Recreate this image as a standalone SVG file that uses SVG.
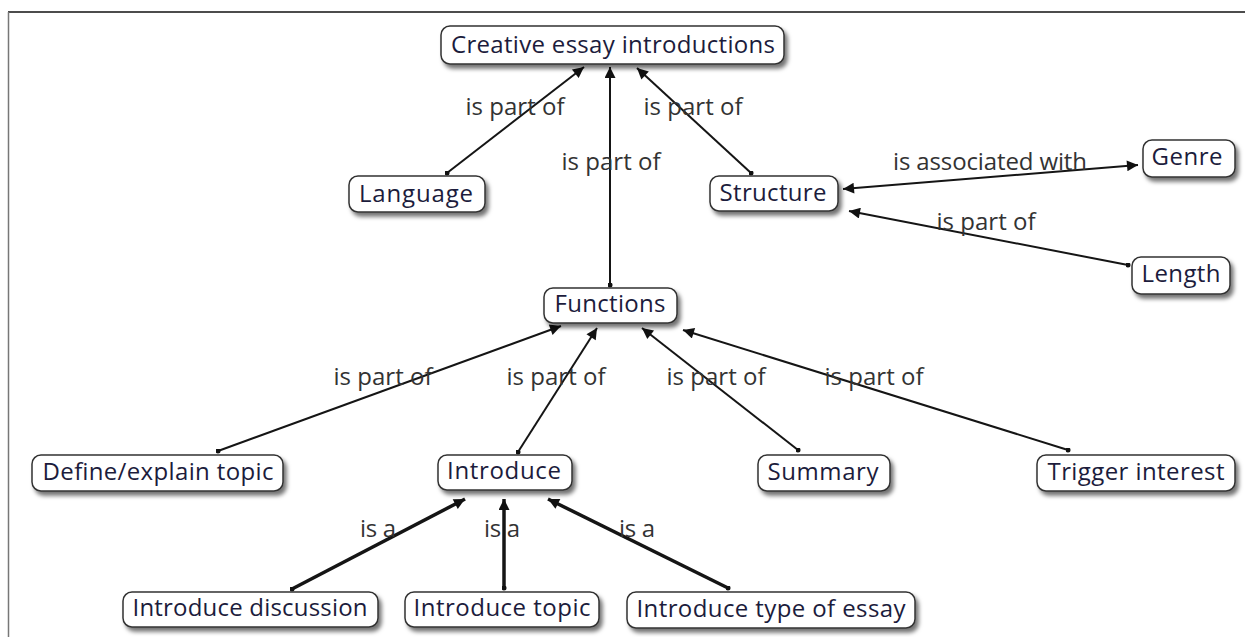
<svg xmlns="http://www.w3.org/2000/svg" width="1245" height="637" viewBox="0 0 1245 637">
  <defs>
    <filter id="shadow" x="-10%" y="-30%" width="125%" height="170%">
      <feDropShadow dx="3" dy="4" stdDeviation="2.2" flood-color="#000" flood-opacity="0.55"/>
    </filter>
    <marker id="arrowBig" viewBox="0 0 10 10" refX="10" refY="5" markerWidth="16" markerHeight="11" orient="auto-start-reverse" markerUnits="userSpaceOnUse">
      <path d="M0,0 L10,5 L0,10 z" fill="#111"/>
    </marker>
    <marker id="dot" viewBox="0 0 6 6" refX="3" refY="3" markerWidth="5" markerHeight="5" markerUnits="userSpaceOnUse">
      <circle cx="3" cy="3" r="3" fill="#111"/>
    </marker>
  </defs>
  <style>
    .node rect { fill: #fff; stroke: #333; stroke-width: 1.5; filter: url(#shadow); }
    .node text { font-family: "Open Sans", "Noto Sans", sans-serif; font-size: 24px; fill: #1c1c3c; text-anchor: middle; }
    .edge { stroke: #151515; stroke-width: 2; fill: none; marker-end: url(#arrowBig); marker-start: url(#dot); }
    .thick { stroke-width: 3.5; }
    .lbl { font-family: "Open Sans", "Noto Sans", sans-serif; font-size: 24px; fill: #333; text-anchor: middle; }
  </style>

  <rect width="1245" height="637" fill="#fff"/>
  <!-- page frame -->
  <line x1="8" y1="12" x2="1245" y2="12" stroke="#111" stroke-width="1.5"/>
  <line x1="8.5" y1="12" x2="8.5" y2="637" stroke="#777" stroke-width="1.5"/>

  <!-- connectors -->
  <g id="connectors">
    <line class="edge" x1="447" y1="173" x2="584" y2="67"/>
    <line class="edge" x1="610" y1="285" x2="610" y2="67"/>
    <line class="edge" x1="751" y1="173" x2="637" y2="68"/>
    <line class="edge" x1="843" y1="189" x2="1138" y2="165" style="marker-start:url(#arrowBig)"/>
    <line class="edge" x1="1128" y1="265" x2="849" y2="211"/>
    <line class="edge" x1="218" y1="451" x2="561" y2="326"/>
    <line class="edge" x1="518" y1="452" x2="597" y2="328"/>
    <line class="edge" x1="798" y1="450" x2="642" y2="328"/>
    <line class="edge" x1="1068" y1="450" x2="683" y2="330"/>
    <line class="edge thick" x1="292" y1="589" x2="465" y2="499"/>
    <line class="edge thick" x1="504" y1="588" x2="504" y2="499"/>
    <line class="edge thick" x1="728" y1="588" x2="548" y2="499"/>

    <text class="lbl" x="515" y="115" textLength="99">is part of</text>
    <text class="lbl" x="611" y="170" textLength="99">is part of</text>
    <text class="lbl" x="693" y="115" textLength="99">is part of</text>
    <text class="lbl" x="990" y="170" textLength="194">is associated with</text>
    <text class="lbl" x="986" y="230" textLength="99">is part of</text>
    <text class="lbl" x="383" y="385" textLength="99">is part of</text>
    <text class="lbl" x="556" y="385" textLength="99">is part of</text>
    <text class="lbl" x="716" y="385" textLength="99">is part of</text>
    <text class="lbl" x="874" y="385" textLength="99">is part of</text>
    <text class="lbl" x="378" y="537" textLength="36">is a</text>
    <text class="lbl" x="502" y="537" textLength="36">is a</text>
    <text class="lbl" x="637" y="537" textLength="36">is a</text>
  </g>

  <!-- nodes -->
  <g id="n-creative" class="node"><rect x="441" y="26" width="343" height="38" rx="9"/><text x="613" y="53" textLength="324">Creative essay introductions</text></g>
  <g id="n-language" class="node"><rect x="349" y="176" width="136" height="36" rx="9"/><text x="416" y="202" textLength="114">Language</text></g>
  <g id="n-structure" class="node"><rect x="710" y="176" width="128" height="35" rx="9"/><text x="773" y="201" textLength="107">Structure</text></g>
  <g id="n-genre" class="node"><rect x="1143" y="140" width="92" height="37" rx="9"/><text x="1187" y="165" textLength="71">Genre</text></g>
  <g id="n-length" class="node"><rect x="1132" y="257" width="98" height="37" rx="9"/><text x="1181" y="282" textLength="79">Length</text></g>
  <g id="n-functions" class="node"><rect x="544" y="288" width="133" height="35" rx="9"/><text x="610" y="312" textLength="111">Functions</text></g>
  <g id="n-define" class="node"><rect x="32" y="455" width="251" height="36" rx="9"/><text x="158" y="480" textLength="231">Define/explain topic</text></g>
  <g id="n-introduce" class="node"><rect x="438" y="455" width="134" height="35" rx="9"/><text x="504" y="479" textLength="114">Introduce</text></g>
  <g id="n-summary" class="node"><rect x="758" y="455" width="132" height="36" rx="9"/><text x="823" y="480" textLength="111">Summary</text></g>
  <g id="n-trigger" class="node"><rect x="1037" y="455" width="198" height="36" rx="9"/><text x="1136" y="480" textLength="177">Trigger interest</text></g>
  <g id="n-discussion" class="node"><rect x="123" y="592" width="255" height="35" rx="9"/><text x="250" y="616" textLength="235">Introduce discussion</text></g>
  <g id="n-topic" class="node"><rect x="405" y="592" width="194" height="35" rx="9"/><text x="502" y="616" textLength="177">Introduce topic</text></g>
  <g id="n-type" class="node"><rect x="627" y="592" width="288" height="36" rx="9"/><text x="771" y="617" textLength="269">Introduce type of essay</text></g>
</svg>
